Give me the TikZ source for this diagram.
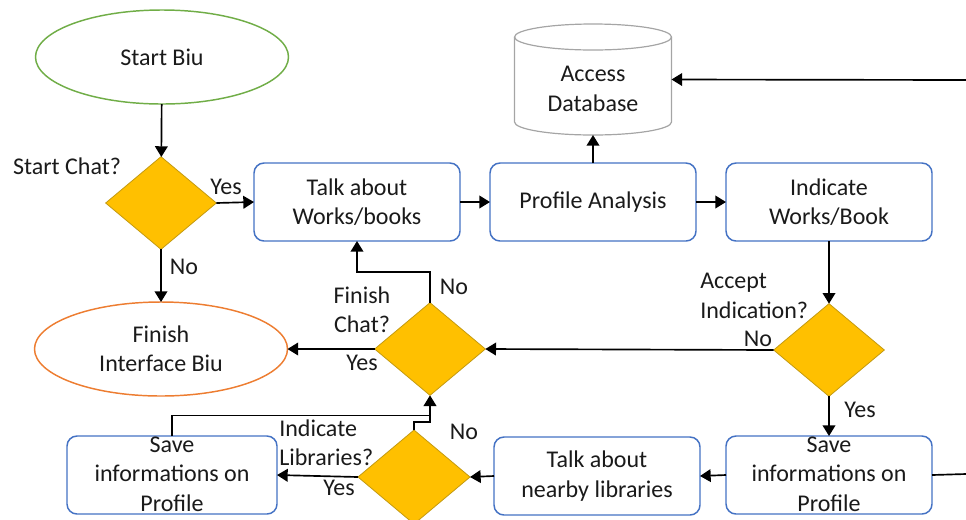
\documentclass[tikz,border=0pt]{standalone}
\usepackage{fontspec}
\setmainfont{Carlito}
\usetikzlibrary{shapes.geometric,arrows.meta}
\definecolor{boxblue}{HTML}{4472C4}
\definecolor{startgreen}{HTML}{70AD47}
\definecolor{endorange}{HTML}{ED7D31}
\definecolor{diafill}{HTML}{FFC000}
\definecolor{diaborder}{HTML}{C49A10}
\definecolor{dbgray}{HTML}{A5A5A5}
\definecolor{txtcol}{HTML}{1A1A1A}
\begin{document}
\begin{tikzpicture}[x=0.75pt,y=-0.75pt,
  font=\fontsize{18}{22}\selectfont, text=txtcol,
  box/.style={draw=boxblue, line width=1.1pt, rounded corners=7.5pt, minimum width=154.5pt, minimum height=58.5pt, align=center, inner sep=0pt, outer sep=0pt, fill=white},
  term/.style={ellipse, line width=1.1pt, minimum width=189.75pt, minimum height=70.5pt, align=center, inner sep=0pt, outer sep=0pt},
  diam/.style={diamond, draw=diaborder, fill=diafill, line width=0.6pt, minimum width=83pt, minimum height=69.5pt, inner sep=0pt, outer sep=0pt},
  lbl/.style={align=center, inner sep=0pt},
  conn/.style={draw=black, line width=1.25pt, -{Triangle[length=8pt,width=9.5pt]}},
  plain/.style={draw=black, line width=1.25pt},
  dbline/.style={draw=dbgray, line width=0.9pt}]
\useasboundingbox (0,0) rectangle (966,519);
\clip (0,0) rectangle (966,519);

% nodes
\node[term, draw=startgreen] (start) at (162,57) {Start Biu};
\node[diam] (sc) at (161,203) {};
\node[lbl] (scl) at (67,166) {Start Chat?};
\node[box] (talk) at (357,202) {Talk about\\Works/books};
\node[box] (prof) at (593,202) {Profile Analysis};
\node[box] (ind) at (829,202) {Indicate\\Works/Book};
\node[minimum width=117.75pt, minimum height=83.25pt, inner sep=0pt, outer sep=0pt] (db) at (593,79.5) {};
\draw[dbline] ([yshift=-9.75pt]db.north west) -- ([yshift=9.75pt]db.south west)
  arc[start angle=180, end angle=360, x radius=58.875pt, y radius=9.75pt]
  -- ([yshift=-9.75pt]db.north east);
\draw[dbline] ([yshift=-9.75pt]db.north) ellipse [x radius=58.875pt, y radius=9.75pt];
\node[lbl] (dbt) at (593,89) {Access\\Database};

\node[term, draw=endorange] (fin) at (161,349) {Finish\\Interface Biu};
\node[diam] (fc) at (430,349) {};
\node[diam] (acc) at (829,350) {};
\node[box] (saveR) at (829,475) {};
\node[lbl] (saveRt) at (829,474) {Save\\informations on\\Profile};
\node[box] (near) at (597,476) {Talk about\\nearby libraries};
\node[diam, minimum width=84pt, minimum height=70.5pt] (il) at (414,477) {};
\node[box, minimum width=157.5pt] (saveL) at (172,475) {};
\node[lbl] (saveLt) at (172,474) {Save\\informations on\\Profile};

\coordinate (dbin) at (966,80);
\coordinate (saveout) at (966,474);

% labels
\node[lbl] (y1) at (226,187) {Yes};
\node[lbl] (n1) at (184,267) {No};
\node[lbl] (fcl) at (362,310) {Finish\\Chat?};
\node[lbl] (n2) at (454,287) {No};
\node[lbl] (y2) at (362,363) {Yes};
\node[lbl, align=left, anchor=west] (ill) at (279,443) {Indicate\\Libraries?};
\node[lbl] (n3) at (464,432) {No};
\node[lbl] (y3) at (339,488) {Yes};
\node[lbl, align=left, anchor=west] (accl) at (700,296) {Accept\\Indication?};
\node[lbl] (n4) at (758,339) {No};
\node[lbl] (y4) at (860,410) {Yes};

% connectors
\draw[conn] (start) -- (sc);
\draw[conn] (sc.east) -- (talk.west);
\draw[conn] (talk.east) -- (prof.west);
\draw[conn] (prof.east) -- (ind.west);
\draw[conn] (prof.north) -- (db.south);
\draw[conn] (dbin) -- (db.east);
\draw[conn] (ind.south) -- (acc.north);
\draw[conn] (acc.west) -- (fc.east);
\draw[conn] (fc.west) -- (fin.east);
\draw[conn] (fc.north) -- ++(0,-31) -| (talk.south);
\draw[conn] (sc.south) -- (fin.north);
\draw[conn] (acc.south) -- (saveR.north);
\draw[conn] (saveR.west) -- (near.east);
\draw[conn] (near.west) -- (il.east);
\draw[conn] (il.west) -- (saveL.east);
\path (fc.south) ++(0,20) coordinate (merge);
\draw[conn] (il.north) -- ++(0,-8) -| (fc.south);
\draw[plain] (saveL.north) |- (merge);
\draw[plain] (saveR.east) -- (saveout);
\end{tikzpicture}
\end{document}
